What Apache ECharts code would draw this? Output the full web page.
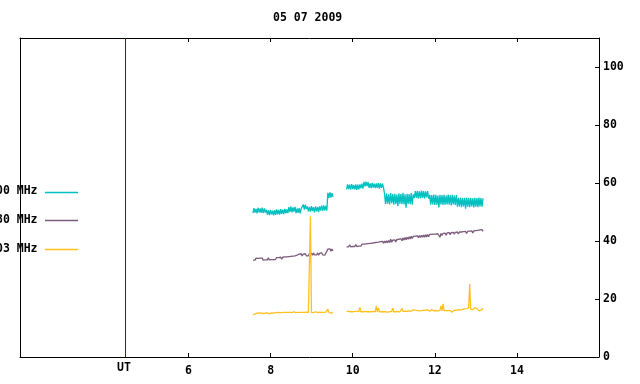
<!DOCTYPE html>
<html><head><meta charset="utf-8">
<script src="https://cdn.jsdelivr.net/npm/echarts@6/dist/echarts.min.js"></script>
<style>html,body{margin:0;padding:0;background:#fff}#c{width:640px;height:384px}</style>
</head><body><div id="c"></div>
<script>
const chartTitle = '05 07 2009';
const seriesNames = ['2800 MHz', '2980 MHz', '1403 MHz'];
const seriesColors = ['#00c0c0', '#7c5c7c', '#ffc020'];
const xTickValues = [6, 8, 10, 12, 14];
const yTickValues = [0, 20, 40, 60, 80, 100];
const utLabel = 'UT';
const utHour = 4.47;
const xMin = 1.895, xMax = 16, yMin = 0, yMax = 110;
const seg1Start = 7.57, seg2Start = 9.85, sampleStep = 0.025, gapHour = 9.7;

const cyanSeg1 = [49.6,51.3,49.8,51.1,49.5,51.4,49.9,51.2,49.7,51.5,49.6,51.2,49.8,
  50.8,49.1,50.6,48.9,50.7,49.2,50.5,48.8,
  50.6,49.0,50.9,49.2,50.7,49.1,51.0,49.4,50.8,49.3,51.1,49.5,50.9,49.6,
  51.7,50.0,51.9,49.9,51.6,50.1,51.8,
  49.6,51.2,49.7,51.3,49.5,51.1,
  50.9,52.6,50.8,52.5,51.0,
  51.9,50.2,51.8,50.1,52.0,50.3,51.7,49.9,51.9,50.2,51.8,50.0,51.9,
  50.5,52.2,50.4,52.3,50.6,52.1,50.5,
  56.6,54.9,56.8,55.0,56.5,55.2];
const cyanSeg2 = [57.8,59.5,57.9,59.4,57.7,59.6,57.9,59.3,57.8,59.5,57.6,59.4,57.8,59.5,
  58.2,59.8,58.1,
  60.4,58.8,60.5,58.9,60.3,
  58.3,59.9,58.2,60.0,58.4,59.8,58.2,59.9,58.3,60.0,58.1,59.9,58.3,59.8,58.4,
  56.3,52.8,56.4,52.9,56.1,52.6,56.5,53.0,56.2,52.5,56.3,52.8,56.0,52.0,56.4,52.9,56.2,52.7,56.6,52.6,56.1,51.5,56.3,52.8,56.2,52.7,56.5,52.5,56.1,
  54.8,57.2,54.9,57.3,54.6,57.1,54.8,57.4,54.9,57.2,54.7,57.1,55.0,57.2,54.6,
  55.9,52.5,55.8,52.6,56.0,52.4,55.9,52.5,55.7,51.6,55.9,52.6,55.8,52.4,55.9,52.5,55.7,52.6,56.0,52.5,55.8,52.3,55.9,52.6,55.7,52.4,55.8,
  51.8,54.9,51.9,55.0,51.7,54.8,51.9,54.9,51.1,55.0,51.8,54.8,51.7,54.9,51.9,54.7,51.6,54.9,51.8,54.8,51.7,55.0,51.9,54.8,51.8,54.7];
const purpleSeg1 = [33.4,34.0,33.4,34.1,33.5,34.0,33.4,34.1,33.5,34.1,33.4,34.0,33.5,34.1,33.5,34.2,33.5,34.1,33.6,34.2,
  33.6,34.2,33.6,34.3,33.7,34.3,33.7,34.4,33.7,34.4,33.8,34.5,33.9,34.5,33.9,34.6,34.0,
  34.7,34.1,34.8,34.2,34.9,34.3,35.1,34.5,
  35.5,34.9,35.6,34.8,35.5,34.9,35.6,34.9,35.5,34.9,35.6,
  35.2,35.8,35.1,35.9,35.2,35.8,35.2,35.9,35.1,35.8,35.2,35.9,35.2,35.8,35.1,35.8,
  36.5,37.2,36.6,37.3,36.5,37.2,36.6];
const purpleSeg2 = [38.0,38.6,38.0,38.7,38.0,38.6,38.1,38.7,38.1,38.8,38.1,38.7,38.2,38.8,38.2,38.9,38.3,
  38.9,38.3,39.0,38.4,39.1,38.5,39.2,38.6,39.3,38.7,39.4,38.8,39.5,38.9,39.6,39.0,
  39.8,39.2,39.9,39.2,40.0,39.3,40.1,39.4,40.2,39.5,40.6,39.6,40.3,39.7,40.4,39.7,40.5,
  39.9,40.6,40.0,40.8,40.1,41.0,40.3,41.2,40.4,41.3,40.6,41.5,40.7,41.6,40.9,
  41.6,41.0,41.7,41.1,41.8,41.1,41.9,41.2,42.0,41.3,42.1,41.3,42.2,41.4,42.2,41.5,42.3,
  41.7,42.3,41.7,42.4,41.8,42.4,41.8,42.5,41.9,41.3,42.6,41.9,42.6,42.0,42.7,42.0,
  42.8,42.2,42.9,42.2,42.9,42.3,43.0,42.3,43.0,42.4,43.1,42.4,43.1,42.5,43.1,42.5,
  43.2,42.6,43.3,42.6,43.3,42.7,43.4,42.8,43.5,42.8,43.5,42.9,43.6,43.0,43.7,43.1,43.8,43.2,43.9,43.3];
const orangeSeg1 = [14.6,14.3,14.8,15.0,
  15.1,15.3,15.2,15.0,15.1,15.2,15.0,14.9,15.1,15.0,15.2,15.1,14.9,15.1,15.2,15.0,15.1,
  15.2,15.3,15.2,15.4,15.5,15.3,15.4,15.3,15.5,15.4,15.3,15.4,15.6,15.4,15.3,15.4,15.5,15.3,15.4,15.6,15.4,15.3,15.5,15.4,15.3,15.4,15.6,15.4,15.3,15.4,15.3,15.5,15.4,15.3,15.4,
  48.5,
  15.4,15.5,15.3,15.4,15.6,15.4,15.3,15.4,15.5,15.3,15.4,15.2,15.4,15.3,15.5,15.4,
  16.5,
  15.4,15.3,15.1,15.4,15.3];
const orangeSeg2 = [15.7,15.6,15.7,15.6,15.6,15.7,15.6,15.6,15.7,15.6,15.7,15.6,15.7,
  17.1,
  15.6,15.7,15.6,15.6,15.7,15.6,15.6,15.7,15.6,15.7,15.6,15.6,15.7,15.6,15.6,
  17.6,15.6,16.9,
  15.6,15.7,15.6,15.5,15.6,15.7,15.6,15.6,15.5,15.7,15.6,15.6,15.7,
  16.8,
  15.6,15.7,15.6,15.6,15.7,15.6,15.5,15.6,
  16.8,
  15.7,15.6,15.8,16.0,15.7,16.1,15.9,16.2,15.8,16.0,16.3,15.9,16.1,15.7,16.0,16.2,15.9,16.1,16.0,15.8,16.2,16.0,16.1,15.9,16.3,16.0,15.8,16.1,16.4,16.0,15.9,16.1,16.0,16.2,15.9,16.0,16.1,
  17.6,16.0,18.3,
  16.0,15.9,16.0,15.9,16.0,15.9,16.0,15.9,15.4,15.8,16.2,16.4,16.1,16.6,16.3,16.5,16.2,16.8,16.4,16.3,16.6,16.2,16.7,16.4,16.9,
  25.2,
  16.5,16.9,16.3,16.6,17.0,16.4,16.8,16.2,15.9,15.6,16.1,16.4,16.8];
const lineWidths = [1.3, 1.3, 1.3];

function buildSeries(a, b) {
  const out = [];
  a.forEach((v, i) => out.push([seg1Start + i * sampleStep, v]));
  out.push([gapHour, null]);
  b.forEach((v, i) => out.push([seg2Start + i * sampleStep, v]));
  return out;
}
const seriesData = [buildSeries(cyanSeg1, cyanSeg2), buildSeries(purpleSeg1, purpleSeg2), buildSeries(orangeSeg1, orangeSeg2)];

const FONT = '"DejaVu Sans Mono", monospace';
const txt = {fontFamily: FONT, fontWeight: 'bold', fontSize: 11.5, color: '#000'};
const axisLineStyle = {show: true, onZero: false, lineStyle: {color: '#000', width: 1}};

const chart = echarts.init(document.getElementById('c'), null, {renderer: 'canvas'});

const graphic = [
  {type: 'text', left: 273, top: 12, style: {text: chartTitle, font: 'bold 11.5px ' + FONT, fill: '#000'}},
  {type: 'text', x: 124, y: 368.5, style: {text: utLabel, font: 'bold 11.5px ' + FONT, fill: '#000', align: 'center', verticalAlign: 'middle'}}
];
seriesNames.forEach((n, i) => {
  const y = 191.5 + i * 28.6;
  graphic.push({type: 'text', x: 37.5, y: y, style: {text: n, font: 'bold 11.5px ' + FONT, fill: '#000', align: 'right', verticalAlign: 'middle'}});
  graphic.push({type: 'line', shape: {x1: 45, y1: Math.round(y) + 0.5, x2: 78, y2: Math.round(y) + 0.5}, style: {stroke: seriesColors[i], lineWidth: 1.3}});
});

chart.setOption({
  animation: false,
  backgroundColor: '#fff',
  grid: {left: 20, top: 38, width: 579, height: 319, containLabel: false},
  xAxis: [
    {type: 'value', position: 'bottom', min: xMin, max: xMax, axisLine: axisLineStyle,
     axisTick: {show: true, inside: true, length: 4, customValues: xTickValues, lineStyle: {color: '#000'}},
     axisLabel: Object.assign({customValues: xTickValues, margin: 8}, txt), splitLine: {show: false}},
    {type: 'value', position: 'top', min: xMin, max: xMax, axisLine: axisLineStyle,
     axisTick: {show: true, inside: true, length: 4, customValues: xTickValues, lineStyle: {color: '#000'}},
     axisLabel: {show: false}, splitLine: {show: false}}
  ],
  yAxis: [
    {type: 'value', position: 'right', min: yMin, max: yMax, axisLine: axisLineStyle,
     axisTick: {show: true, inside: true, length: 4, customValues: yTickValues, lineStyle: {color: '#000'}},
     axisLabel: Object.assign({customValues: yTickValues, margin: 4}, txt), splitLine: {show: false}},
    {type: 'value', position: 'left', min: yMin, max: yMax, axisLine: axisLineStyle,
     axisTick: {show: false}, axisLabel: {show: false}, splitLine: {show: false}}
  ],
  graphic: graphic,
  series: seriesData.map((d, i) => ({
    type: 'line', name: seriesNames[i], data: d, xAxisIndex: 0, yAxisIndex: 0,
    showSymbol: false, symbol: 'none', connectNulls: false, sampling: null,
    lineStyle: {color: seriesColors[i], width: lineWidths[i], join: 'bevel'},
    itemStyle: {color: seriesColors[i]},
    markLine: i === 0 ? {silent: true, symbol: ['none', 'none'], label: {show: false},
      lineStyle: {color: '#8b0000', width: 1, type: 'solid'}, data: [{xAxis: utHour}]} : undefined
  }))
});
</script></body></html>
